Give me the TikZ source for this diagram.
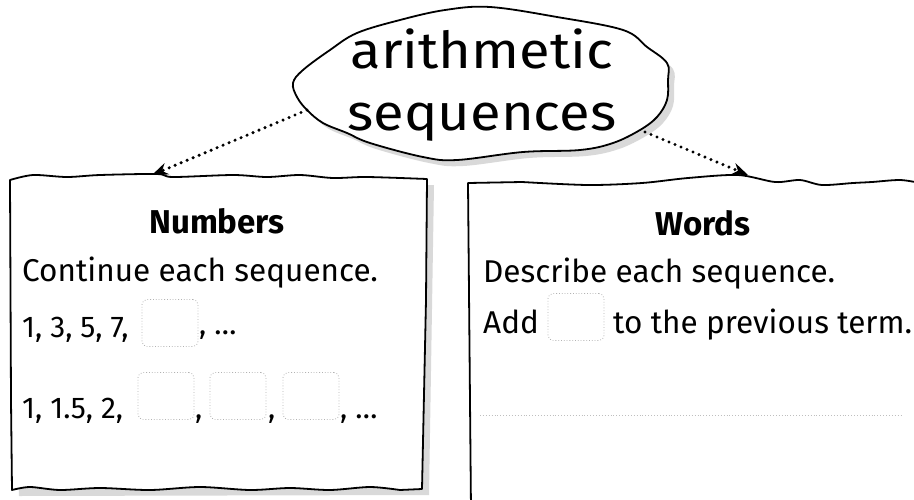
\documentclass[tikz,border=0pt]{standalone}
\usepackage{fontspec}
\setmainfont{Fira Sans}
\usetikzlibrary{positioning, arrows.meta}

\begin{document}
\begin{tikzpicture}[x=1pt, y=-1pt, >={Stealth[length=16pt, width=12pt]},
  txt/.style={anchor=base west, inner sep=0pt, font=\fontsize{31.5}{36}\selectfont},
  num/.style={anchor=base west, inner sep=0pt, font=\fontsize{30}{36}\selectfont},
  head/.style={anchor=base, inner sep=0pt, font=\fontsize{33}{38}\selectfont\bfseries},
  topic/.style={anchor=base, inner sep=0pt, xscale=1.1, transform shape, font=\fontsize{51}{56}\selectfont},
  blank/.style={draw=gray!60, dotted, line width=0.8pt, rounded corners=5pt, minimum width=56pt, minimum height=47pt, inner sep=0pt},
  edge/.style={line width=1.8pt, line join=round},
  shade/.style={fill=gray!30, draw=none},
  dots/.style={->, line width=3.4pt, line cap=round, dash pattern=on 0pt off 6.5pt}]
  \clip (0,0) rectangle (914,499);

  % the bubble
  \fill[shade, shift={(6,6)}] plot[smooth cycle, tension=0.6] coordinates {(293,83) (303,70) (330,50) (357,33) (400,20) (445,10) (490,7) (557,17) (623,30) (647,47) (667,63) (668,80) (667,100) (657,117) (640,130) (613,143) (580,150) (523,152) (457,160) (423,157) (370,143) (347,133) (323,123) (307,110) (297,97)};
  \draw[edge, fill=white] plot[smooth cycle, tension=0.6] coordinates {(293,83) (303,70) (330,50) (357,33) (400,20) (445,10) (490,7) (557,17) (623,30) (647,47) (667,63) (668,80) (667,100) (657,117) (640,130) (613,143) (580,150) (523,152) (457,160) (423,157) (370,143) (347,133) (323,123) (307,110) (297,97)};
  \node[topic] (topicA) at (482,68) {arithmetic};
  \node[topic] (topicB) at (482,130) {sequences};
  \coordinate (bubbleL) at (307,110);
  \coordinate (bubbleR) at (645,132);

  % left card
  \fill[shade, shift={(7,6)}] (10,180) -- (427,179) -- (422,489) -- (12,490) -- cycle;
  \draw[edge, fill=white] plot[smooth, tension=0.5] coordinates {(10,180) (33,175) (67,177) (100,175) (157,174) (173,177) (233,175) (267,177) (300,175) (333,178) (367,177) (427,179)}
    -- (426,300) -- (422,489)
    -- plot[smooth, tension=0.5] coordinates {(400,490) (370,487) (330,490) (290,488) (250,490) (200,487) (150,490) (100,488) (60,490) (30,487) (12,490)}
    -- (11,400) -- cycle;
  \coordinate (numTop) at (152,175);

  % right card
  \draw[edge, fill=white] (471,510) -- (468,183)
    -- plot[smooth, tension=0.5] coordinates {(522,182) (588,185) (642,183) (688,178) (738,175) (775,182) (800,180) (822,185) (853,183) (872,182) (900,180) (920,183)};
  \coordinate (wordTop) at (748,175);

  \draw[dots] (bubbleL) -- (numTop);
  \draw[dots] (bubbleR) -- (wordTop);

  \node[head] (numHead) at (217,233) {Numbers};
  \node[txt] (numTask) at (22,281) {Continue each sequence.};
  \node[num] (seqA) at (22,337) {1, 3, 5, 7,};
  \node[blank] (blankA) at (170,323) {};
  \node[num] (endA) at (199,334) {, \dots};
  \node[num] (seqB) at (22,418) {1, 1.5, 2,};
  \node[blank] (blankB1) at (166,396) {};
  \node[num] (commaB1) at (195,418) {,};
  \node[blank] (blankB2) at (238,396) {};
  \node[num] (commaB2) at (268,418) {,};
  \node[blank] (blankB3) at (311,396) {};
  \node[num] (endB) at (340,418) {, \dots};

  \node[head] (wordHead) at (703,235) {Words};
  \node[txt] (wordTask) at (483,282) {Describe each sequence.};
  \node[txt] (addA) at (483,333) {Add};
  \node[blank] (blankW) at (576,317) {};
  \node[txt] (addB) at (613,333) {to the previous term.};
  \draw[gray!50, dotted, line width=0.9pt] (480,415) -- (903,415);
\end{tikzpicture}
\end{document}
